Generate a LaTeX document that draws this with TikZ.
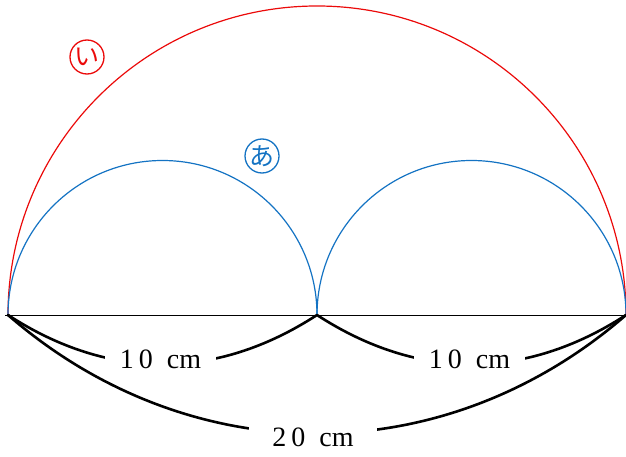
\documentclass[tikz,border=0pt]{standalone}
\usepackage{fontspec}
\setmainfont{Liberation Serif}
\newfontfamily\jpfont{Noto Sans CJK JP}
\definecolor{arcblue}{RGB}{20,115,195}
\definecolor{arcred}{RGB}{235,10,10}
\tikzset{
  lenlabel/.style={fill=white, inner xsep=15pt, inner ysep=1pt, font=\fontsize{28}{32}\selectfont},
  bracearc/.style={line width=2.6pt, line cap=round},
  tagmark/.style={circle, draw, line width=1.3pt, minimum size=34pt, inner sep=0pt, font=\jpfont\fontsize{25}{25}\selectfont},
}
\begin{document}
\begin{tikzpicture}[x=1pt,y=1pt]
  \useasboundingbox (0,0) rectangle (626,456);
  % 直径上的三个点：左端 L，中点 M，右端 R
  \coordinate (L) at (8,141);
  \coordinate (M) at (317,141);
  \coordinate (R) at (626,141);
  % 大半圆（红）
  \draw[arcred, line width=1.2pt] (R) arc[start angle=0, end angle=180, radius=309];
  % 两个小半圆（蓝）
  \draw[arcblue, line width=1.2pt] (M) arc[start angle=0, end angle=180, radius=154.5];
  \draw[arcblue, line width=1.2pt] (R) arc[start angle=0, end angle=180, radius=154.5];
  % 直径
  \draw[line width=1pt] ([xshift=-3pt]L) -- (R);
  % 长度标注
  \draw[bracearc] (L) to[bend right=33] node[lenlabel, xshift=-2pt, yshift=5pt] (lenA) {1\kern5pt0\kern14pt cm} (M);
  \draw[bracearc] (M) to[bend right=33] node[lenlabel, xshift=-2pt, yshift=5pt] (lenB) {1\kern5pt0\kern14pt cm} (R);
  \draw[bracearc] (L) to[bend right=41] node[lenlabel, inner xsep=23pt, xshift=-4pt, yshift=-4pt] (lenC) {2\kern5pt0\kern14pt cm} (R);
  % 圆圈记号
  \node[tagmark, arcred]  (tagI) at (87,399) {い};
  \node[tagmark, arcblue] (tagA) at (262,300) {あ};
\end{tikzpicture}
\end{document}
